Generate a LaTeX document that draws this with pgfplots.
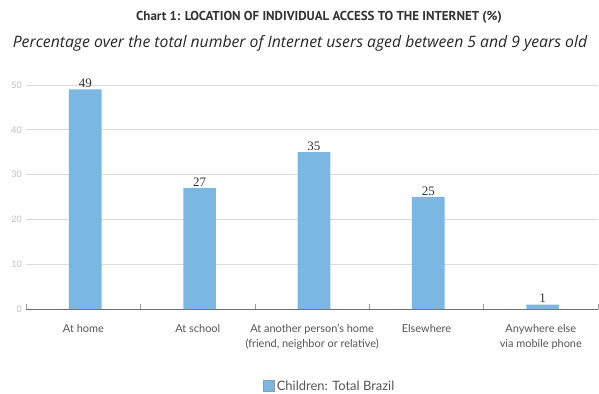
\documentclass[border=0pt]{standalone}
\usepackage{pgfplots}
\pgfplotsset{compat=1.18}
\usepackage{fontspec}
\setmainfont{Lato}
\newfontfamily\serifnum{Liberation Serif}
\newfontfamily\subfont{Open Sans}
\newfontfamily\titlefont{PT Sans}
\definecolor{barblue}{RGB}{122,183,227}
\definecolor{gridgray}{RGB}{218,218,218}
\definecolor{ticklab}{RGB}{190,190,190}
\definecolor{catlab}{RGB}{85,85,85}
\definecolor{axisgray}{RGB}{110,110,110}
\begin{document}
\begin{tikzpicture}
\path[use as bounding box] (0,0) rectangle (599bp,394bp);
\node[font=\fontsize{13}{15}\selectfont\titlefont\bfseries, text=black!80] at (319bp,377bp) {Chart 1: LOCATION OF INDIVIDUAL ACCESS TO THE INTERNET (\%)};
\node[font=\fontsize{15.8}{18}\selectfont\subfont\itshape, text=black!85] at (300bp,351bp) {Percentage over the total number of Internet users aged between 5 and 9 years old};
\begin{axis}[
  at={(26.3bp,85bp)}, anchor=south west,
  scale only axis,
  width=571.7bp, height=224bp,
  xmin=-0.5, xmax=4.5,
  ymin=0, ymax=50,
  ybar, bar width=32.7bp,
  axis x line*=bottom, axis y line*=left,
  y axis line style={draw=none},
  x axis line style={draw=axisgray, line width=0.8pt},
  ytick={0,10,...,50},
  ymajorgrids, grid style={gridgray, line width=0.8pt},
  major y tick style={draw=none},
  xtick={0,1,2,3,4},
  xticklabels={At home, At school, {At another person’s home\\(friend, neighbor or relative)}, Elsewhere, {Anywhere else\\via mobile phone}},
  major x tick style={draw=none},
  minor xtick={-0.5,0.5,...,4.5},
  minor tick length=5bp,
  minor x tick style={draw=axisgray!70, line width=0.8pt},
  tick align=inside,
  xticklabel style={align=center, font=\fontsize{11}{15}\selectfont, text=catlab, yshift=-12bp},
  yticklabel style={font=\fontsize{9}{10}\selectfont, text=ticklab, xshift=-1bp},
  /pgf/number format/assume math mode=true,
  nodes near coords,
  nodes near coords style={font=\fontsize{13}{13}\selectfont\serifnum, text=black!80, inner sep=1.5pt},
  clip=false,
  legend style={at={(0.531,-0.344)}, anchor=center, draw=none, font=\fontsize{13}{15}\selectfont, text=catlab},
  legend image code/.code={\draw[fill=barblue, draw=gray!80] (-4bp,-5.5bp) rectangle (7bp,5.5bp);},
]
\addplot[fill=barblue, draw=none, bar shift=1.8bp] coordinates {(0,49) (1,27) (2,35) (3,25) (4,1)};
\addlegendentry{Children: Total Brazil}
\end{axis}
\end{tikzpicture}
\end{document}
